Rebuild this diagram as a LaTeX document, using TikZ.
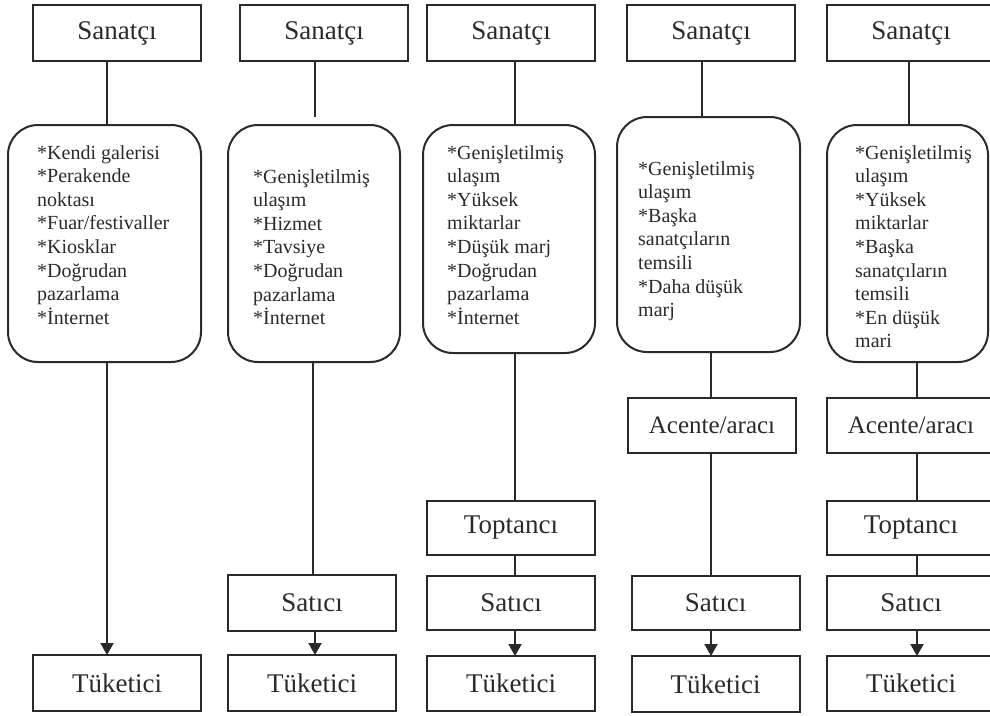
\documentclass[tikz,border=0pt]{standalone}
\usepackage{fontspec}
\setmainfont{Liberation Serif}
\usetikzlibrary{arrows.meta}
\definecolor{ink}{HTML}{2A2A2A}
\tikzset{
 box/.style={draw=ink, line width=2pt, minimum width=168pt, minimum height=56pt, inner sep=0pt, outer sep=0pt, font=\fontsize{27}{30}\selectfont, text=ink},
 rbox/.style={draw=ink, line width=2pt, rectangle, rounded corners=30pt, inner sep=0pt, outer sep=0pt},
 lst/.style={align=left, anchor=north west, inner sep=0pt, font=\fontsize{20}{23.6}\selectfont, text=ink},
 link/.style={draw=ink, line width=2pt},
 arr/.style={draw=ink, line width=2pt, -{Triangle[width=13pt,length=12pt]}},
}
\begin{document}
\begin{tikzpicture}[x=1pt,y=-1pt]
\useasboundingbox (0,0) rectangle (990,715);
\clip (0,0) rectangle (990,715);
% x positions of connectors
\coordinate (xa) at (107,0);
\coordinate (xb) at (315,0);
\coordinate (xbb) at (313,0);
\coordinate (xc) at (515,0);
\coordinate (xd) at (702,0);
\coordinate (xdd) at (711,0);
\coordinate (xe) at (909,0);
\coordinate (xee) at (917,0);

% Column 1
\node[box] (S1) at (117,33) {Sanatçı};
\node[rbox, minimum width=193pt, minimum height=237pt] (R1) at (104.5,243.5) {};
\node[lst] (L1) at (37,145) {*Kendi galerisi\\*Perakende\\noktası\\*Fuar/festivaller\\*Kiosklar\\*Doğrudan\\pazarlama\\*İnternet};
\node[box] (T1) at (117,683) {Tüketici};
\draw[link] (S1.south -| xa) -- (R1.north -| xa);
\draw[arr] (R1.south -| xa) -- (T1.north -| xa);

% Column 2
\node[box] (S2) at (324,33) {Sanatçı};
\coordinate (g2) at (315,117);
\node[rbox, minimum width=172pt, minimum height=237pt] (R2) at (314,243.5) {};
\node[lst] (L2) at (253,169) {*Genişletilmiş\\ulaşım\\*Hizmet\\*Tavsiye\\*Doğrudan\\pazarlama\\*İnternet};
\node[box] (Sa2) at (312,603) {Satıcı};
\node[box] (T2) at (312,683) {Tüketici};
\draw[link] (S2.south -| g2) -- (g2);
\draw[link] (R2.south -| xbb) -- (Sa2.north -| xbb);
\draw[arr] (Sa2.south -| xb) -- (T2.north -| xb);

% Column 3
\node[box] (S3) at (511,33) {Sanatçı};
\node[rbox, minimum width=172pt, minimum height=228pt] (R3) at (509,239) {};
\node[lst] (L3) at (447,145) {*Genişletilmiş\\ulaşım\\*Yüksek\\miktarlar\\*Düşük marj\\*Doğrudan\\pazarlama\\*İnternet};
\node[box, minimum height=54pt] (To3) at (511,528) {Toptancı};
\node[box, minimum height=54pt] (Sa3) at (511,603) {Satıcı};
\node[box, minimum height=55pt] (T3) at (511,683.5) {Tüketici};
\draw[link] (S3.south -| xc) -- (R3.north -| xc);
\draw[link] (R3.south -| xc) -- (To3.north -| xc);
\draw[link] (To3.south -| xc) -- (Sa3.north -| xc);
\draw[arr] (Sa3.south -| xc) -- (T3.north -| xc);

% Column 4
\node[box] (S4) at (711,33) {Sanatçı};
\node[rbox, minimum width=183pt, minimum height=235pt] (R4) at (708.5,234.5) {};
\node[lst] (L4) at (638,161) {*Genişletilmiş\\ulaşım\\*Başka\\sanatçıların\\temsili\\*Daha düşük\\marj};
\node[box, minimum height=55pt, font=\fontsize{25}{28}\selectfont] (A4) at (712,425.5) {Acente/aracı};
\node[box, minimum height=54pt] (Sa4) at (715.5,603) {Satıcı};
\node[box] (T4) at (715.5,684) {Tüketici};
\draw[link] (S4.south -| xd) -- (R4.north -| xd);
\draw[link] (R4.south -| xdd) -- (A4.north -| xdd);
\draw[link] (A4.south -| xdd) -- (Sa4.north -| xdd);
\draw[arr] (Sa4.south -| xdd) -- (T4.north -| xdd);

% Column 5
\node[box] (S5) at (911,33) {Sanatçı};
\node[rbox, minimum width=161pt, minimum height=237pt] (R5) at (907.5,243.5) {};
\node[lst] (L5) at (855,145) {*Genişletilmiş\\ulaşım\\*Yüksek\\miktarlar\\*Başka\\sanatçıların\\temsili\\*En düşük\\mari};
\node[box, minimum height=55pt, font=\fontsize{25}{28}\selectfont] (A5) at (911,425.5) {Acente/aracı};
\node[box, minimum height=54pt] (To5) at (911,528) {Toptancı};
\node[box, minimum height=54pt] (Sa5) at (911,603) {Satıcı};
\node[box, minimum height=55pt] (T5) at (911,683.5) {Tüketici};
\draw[link] (S5.south -| xe) -- (R5.north -| xe);
\draw[link] (R5.south -| xee) -- (A5.north -| xee);
\draw[link] (A5.south -| xee) -- (To5.north -| xee);
\draw[link] (To5.south -| xee) -- (Sa5.north -| xee);
\draw[arr] (Sa5.south -| xee) -- (T5.north -| xee);
\end{tikzpicture}
\end{document}
